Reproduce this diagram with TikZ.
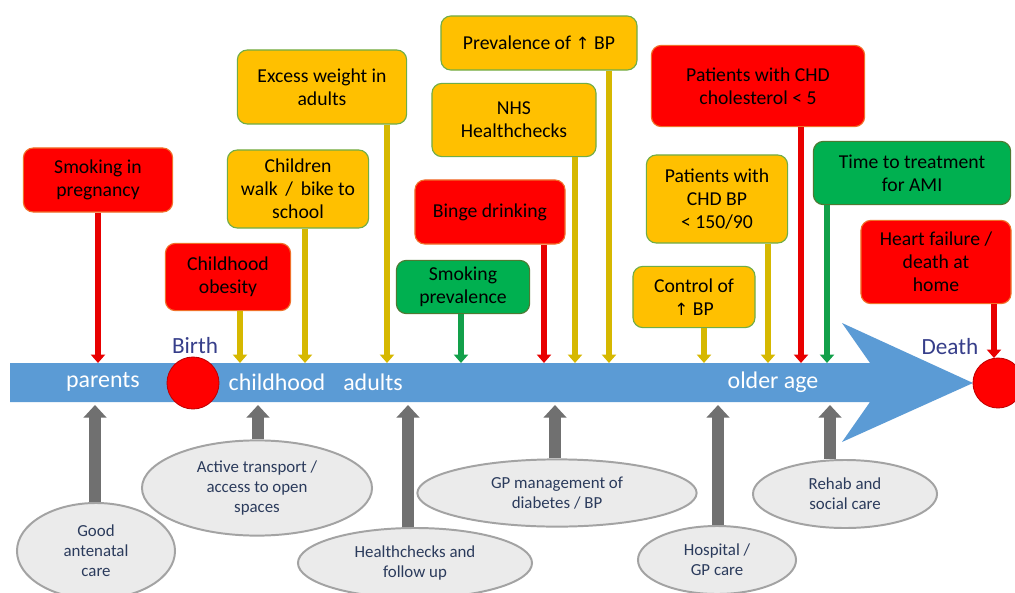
\documentclass[tikz,border=0pt]{standalone}
\usepackage{fontspec}
\setmainfont{Carlito}
\newfontfamily\arrowfont{DejaVu Sans}
\usepackage{tikz}
\usetikzlibrary{arrows.meta,shapes.geometric}

\definecolor{bandblue}{HTML}{5B9BD5}
\definecolor{boxred}{HTML}{FF0000}
\definecolor{boxamber}{HTML}{FFC000}
\definecolor{boxgreen}{HTML}{00B050}
\definecolor{rededge}{HTML}{F0702A}
\definecolor{greenedge}{HTML}{70AD47}
\definecolor{linkred}{HTML}{E80000}
\definecolor{linkamber}{HTML}{D6B800}
\definecolor{linkgreen}{HTML}{12A04A}
\definecolor{shaftgray}{HTML}{707070}
\definecolor{ovalfill}{HTML}{EBEBEB}
\definecolor{ovaledge}{HTML}{A3A3A3}
\definecolor{ovaltext}{HTML}{2B3B5C}
\definecolor{markertext}{HTML}{363E8A}

\newcommand{\uparr}{{\arrowfont\fontsize{12}{12}\selectfont ↑}}

\begin{document}
\begin{tikzpicture}[x=0.025cm,y=-0.025cm,
    ind/.style={rectangle,rounded corners=7pt,line width=0.8pt,align=center,inner sep=1pt,
                font=\fontsize{14}{16.2}\selectfont},
    red ind/.style={ind,fill=boxred,draw=rededge},
    amber ind/.style={ind,fill=boxamber,draw=greenedge},
    green ind/.style={ind,fill=boxgreen,draw=greenedge!70!black},
    service/.style={ellipse,fill=ovalfill,draw=ovaledge,line width=1.4pt,align=center,inner sep=0pt,
                    text=ovaltext,font=\fontsize{12}{14.2}\selectfont},
    stage/.style={text=white,font=\fontsize{17}{20}\selectfont},
    marker/.style={text=markertext,font=\fontsize{16.5}{20}\selectfont},
    event/.style={circle,fill=red,draw=red!75!black,line width=0.6pt,inner sep=0pt},
    link/.style={line width=3.6pt,-{Triangle[length=6pt,width=10pt]}},
    support/.style={shaftgray,line width=8.5pt,-{Triangle[length=9pt,width=16pt]}}]
    \path[fill=white,use as bounding box] (0,0) rectangle (1015,593);

    \fill[bandblue] (10,363) -- (870,363) -- (842,323) -- (973,383) -- (842,442) -- (870,402) -- (10,402) -- cycle;

    \node[stage] (parents)   at (103,382) {parents};
    \node[stage] (childhood) at (277,382) {childhood};
    \node[stage] (adults)    at (373,382) {adults};
    \node[stage] (older)     at (773,382) {older age};

    \node[event,minimum size=1.3cm]  (birth) at (193,383) {};
    \node[event,minimum size=1.25cm] (death) at (998,383) {};
    \node[marker] (birth_lbl) at (195,346) {Birth};
    \node[marker] (death_lbl) at (950,347) {Death};

    \node[red ind,minimum width=3.73cm,minimum height=1.6cm]    (i_1)  at (98,180)  {Smoking in\\pregnancy};
    \node[red ind,minimum width=3.13cm,minimum height=1.68cm]   (i_2)  at (228,277) {Childhood\\obesity};
    \node[amber ind,minimum width=3.53cm,minimum height=1.95cm] (i_3)  at (298,189) {Children\\walk\, /\, bike to\\school};
    \node[amber ind,minimum width=4.23cm,minimum height=1.85cm] (i_4)  at (322,87)  {Excess weight in\\adults};
    \node[green ind,minimum width=3.33cm,minimum height=1.33cm] (i_5)  at (463,287) {Smoking\\prevalence};
    \node[red ind,minimum width=3.75cm,minimum height=1.6cm]    (i_6)  at (490,212) {Binge drinking};
    \node[amber ind,minimum width=4.1cm,minimum height=1.83cm]  (i_7)  at (514,120) {NHS\\Healthchecks};
    \node[amber ind,minimum width=4.9cm,minimum height=1.35cm]  (i_8)  at (539,43)  {Prevalence of \uparr\ BP};
    \node[amber ind,minimum width=3.05cm,minimum height=1.53cm] (i_9)  at (694,297) {Control of\\\uparr\ BP};
    \node[amber ind,minimum width=3.53cm,minimum height=2.2cm]  (i_10) at (717,199) {Patients with\\CHD BP\\< 150/90};
    \node[red ind,minimum width=5.33cm,minimum height=2.03cm]   (i_11) at (758,86)  {Patients with CHD\\cholesterol < 5};
    \node[green ind,minimum width=4.93cm,minimum height=1.58cm] (i_12) at (912,173) {Time to treatment\\for AMI};
    \node[red ind,minimum width=3.75cm,minimum height=2.08cm]   (i_13) at (936,262) {Heart failure /\\death at\\home};

    \node[service,minimum width=3.95cm,minimum height=2.4cm]  (s_1) at (96,551)  {Good\\antenatal\\care};
    \node[service,minimum width=5.75cm,minimum height=2.38cm] (s_2) at (257,488) {Active transport /\\access to open\\spaces};
    \node[service,minimum width=5.85cm,minimum height=1.75cm] (s_3) at (415,563) {Healthchecks and\\follow up};
    \node[service,minimum width=6.98cm,minimum height=1.68cm] (s_4) at (557,493) {GP management of\\diabetes / BP};
    \node[service,minimum width=3.95cm,minimum height=1.7cm]  (s_5) at (717,560) {Hospital /\\GP care};
    \node[service,minimum width=4.6cm,minimum height=1.7cm]   (s_6) at (845,494) {Rehab and\\social care};

    \coordinate (t_1)  at (98,363);
    \coordinate (t_2)  at (240,363);
    \coordinate (t_3)  at (305,363);
    \coordinate (t_4)  at (387,363);
    \coordinate (t_5)  at (461,363);
    \coordinate (t_6)  at (544,363);
    \coordinate (t_7)  at (575,363);
    \coordinate (t_8)  at (609,363);
    \coordinate (t_9)  at (704,363);
    \coordinate (t_10) at (768,363);
    \coordinate (t_11) at (801,363);
    \coordinate (t_12) at (827,363);
    \coordinate (t_13) at (994,358);

    \coordinate (b_1) at (95,405);
    \coordinate (b_2) at (258,405);
    \coordinate (b_3) at (408,405);
    \coordinate (b_4) at (555,405);
    \coordinate (b_5) at (718,405);
    \coordinate (b_6) at (830,405);

    \path[link]
        (i_1.south -| t_1)   edge[linkred]   (t_1)
        (i_2.south -| t_2)   edge[linkamber] (t_2)
        (i_3.south -| t_3)   edge[linkamber] (t_3)
        (i_4.south -| t_4)   edge[linkamber] (t_4)
        (i_5.south -| t_5)   edge[linkgreen] (t_5)
        (i_6.south -| t_6)   edge[linkred]   (t_6)
        (i_7.south -| t_7)   edge[linkamber] (t_7)
        (i_8.south -| t_8)   edge[linkamber] (t_8)
        (i_9.south -| t_9)   edge[linkamber] (t_9)
        (i_10.south -| t_10) edge[linkamber] (t_10)
        (i_11.south -| t_11) edge[linkred]   (t_11)
        (i_12.south -| t_12) edge[linkgreen] (t_12)
        (i_13.south -| t_13) edge[linkred]   (t_13);

    \path[support]
        (s_1.north -| b_1) edge (b_1)
        (s_2.north -| b_2) edge (b_2)
        (s_3.north -| b_3) edge (b_3)
        (s_4.north -| b_4) edge (b_4)
        (s_5.north -| b_5) edge (b_5)
        (s_6.north -| b_6) edge (b_6);
\end{tikzpicture}
\end{document}
